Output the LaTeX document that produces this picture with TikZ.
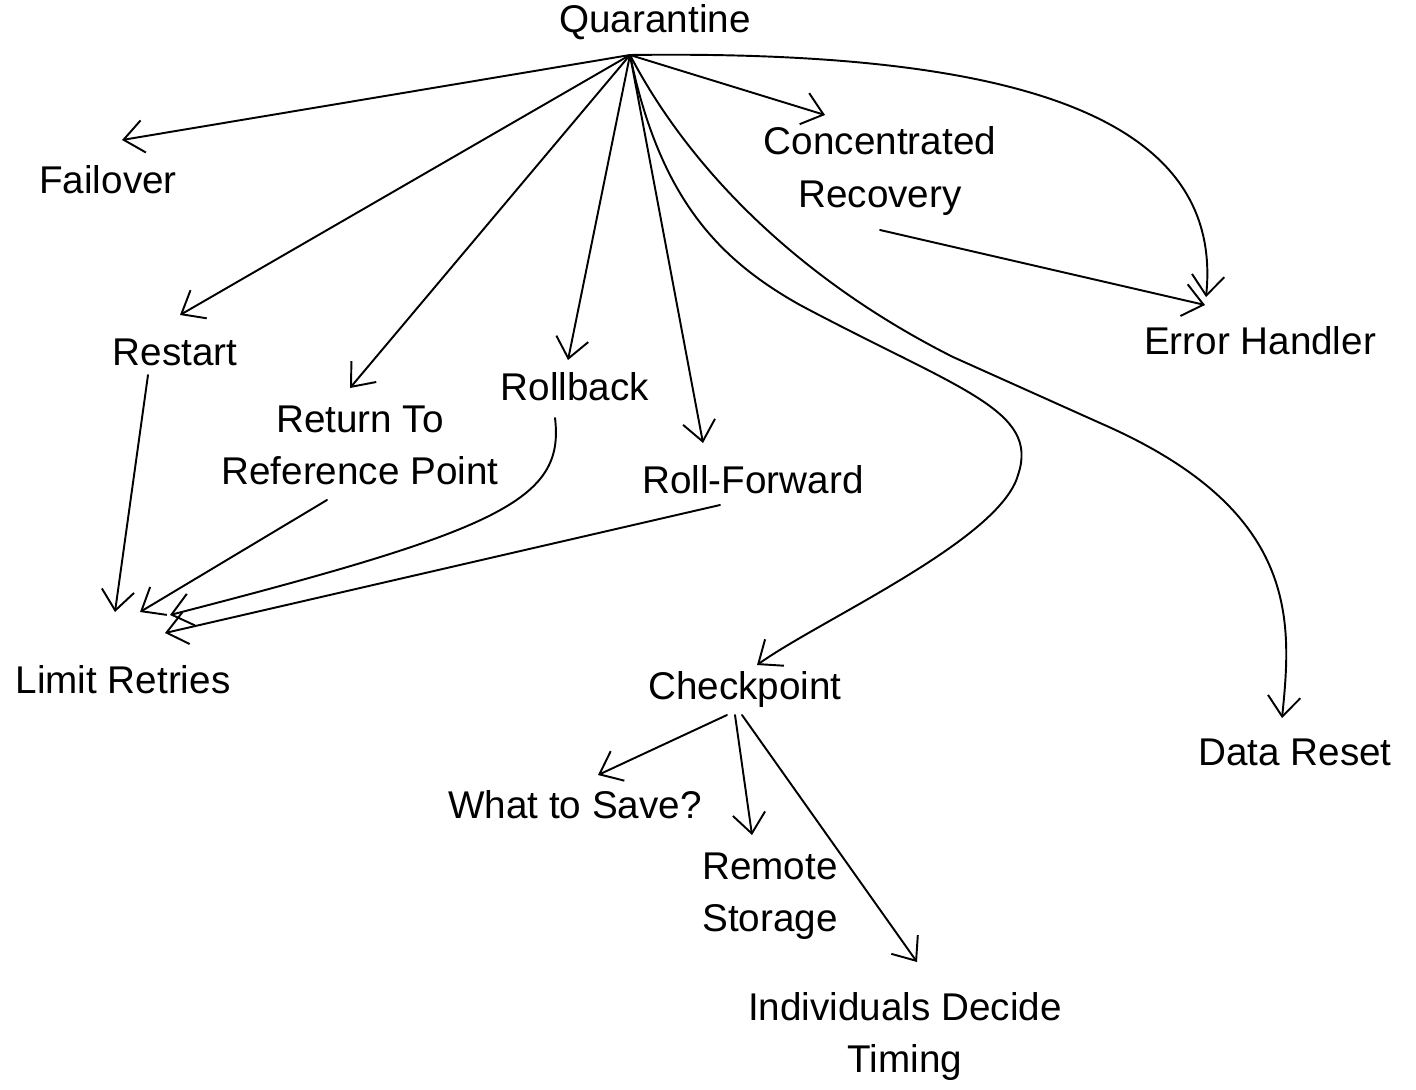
\documentclass[tikz,border=0pt]{standalone}
\usepackage{fontspec}
\setmainfont{Liberation Sans}
\usetikzlibrary{arrows.meta}
\begin{document}
\begin{tikzpicture}[x=0.02cm,y=-0.02cm,
  lbl/.style={inner sep=0pt,align=center,font=\fontsize{22}{29.6}\selectfont},
  conn/.style={line width=1.1pt,-{Straight Barb[length=4mm,width=6.5mm,line width=1.1pt]}},
  every path/.style={line cap=round,line join=round}]
\useasboundingbox (0,0) rectangle (1416,1089);
% nodes
\node[lbl] (quar) at (655,22) {Quarantine};
\node[lbl] (fail) at (108,180) {Failover};
\node[lbl] (conc) at (880,171) {Concentrated\\Recovery};
\node[lbl] (err) at (1260,341) {Error Handler};
\node[lbl] (rest) at (175,352) {Restart};
\node[lbl] (ret) at (360,445) {Return To\\Reference Point};
\node[lbl] (roll) at (575,387) {Rollback};
\node[lbl] (rf) at (753,480) {Roll-Forward};
\node[lbl] (chk) at (745,689) {Checkpoint};
\node[lbl] (dr) at (1295,752) {Data Reset};
\node[lbl] (lim) at (123,680) {Limit Retries};
\node[lbl] (save) at (575,805) {What to Save?};
\node[lbl] (rem) at (770,896) {Remote\\Storage};
\node[lbl] (ind) at (905,1036) {Individuals Decide\\Timing};
% connector points
\coordinate (q) at (630,55);
\coordinate (failIn) at (122,140);
\coordinate (concIn) at (825,115);
\coordinate (errIn1) at (1206,297);
\coordinate (errIn2) at (1205,305);
\coordinate (restIn) at (180,315);
\coordinate (retIn) at (350,388);
\coordinate (rollIn) at (568,360);
\coordinate (rfIn) at (703,443);
\coordinate (chkIn) at (757,665);
\coordinate (drIn) at (1282,718);
\coordinate (limIn1) at (115,612);
\coordinate (limIn2) at (140,612);
\coordinate (limIn3) at (170,615);
\coordinate (limIn4) at (165,633);
\coordinate (saveIn) at (598,775);
\coordinate (remIn) at (752,835);
\coordinate (indIn) at (917,962);
\coordinate (restOut) at (148,375);
\coordinate (retOut) at (327,500);
\coordinate (rollOut) at (555,418);
\coordinate (rfOut) at (720,505);
\coordinate (concOut) at (880,230);
\coordinate (chkOut1) at (727,715);
\coordinate (chkOut2) at (735,715);
\coordinate (chkOut3) at (742,715);
% connectors from Quarantine
\draw[conn] (q) -- (failIn);
\draw[conn] (q) -- (restIn);
\draw[conn] (q) -- (retIn);
\draw[conn] (q) -- (rollIn);
\draw[conn] (q) -- (rfIn);
\draw[conn] (q) -- (concIn);
\draw[conn] (q) .. controls (1000,50) and (1225,110) .. (errIn1);
\draw[conn] (q) .. controls (660,200) and (720,260) .. (800,305)
  .. controls (960,390) and (1040,410) .. (1018,475)
  .. controls (1000,540) and (820,620) .. (chkIn);
\draw[conn] (q) .. controls (690,170) and (800,280) .. (953,357)
  -- (1100,423) .. controls (1300,510) and (1292,620) .. (drIn);
% others
\draw[conn] (concOut) -- (errIn2);
\draw[conn] (restOut) -- (limIn1);
\draw[conn] (retOut) -- (limIn2);
\draw[conn] (rollOut) .. controls (565,500) and (500,530) .. (limIn3);
\draw[conn] (rfOut) -- (limIn4);
\draw[conn] (chkOut1) -- (saveIn);
\draw[conn] (chkOut2) -- (remIn);
\draw[conn] (chkOut3) -- (indIn);
\end{tikzpicture}
\end{document}
